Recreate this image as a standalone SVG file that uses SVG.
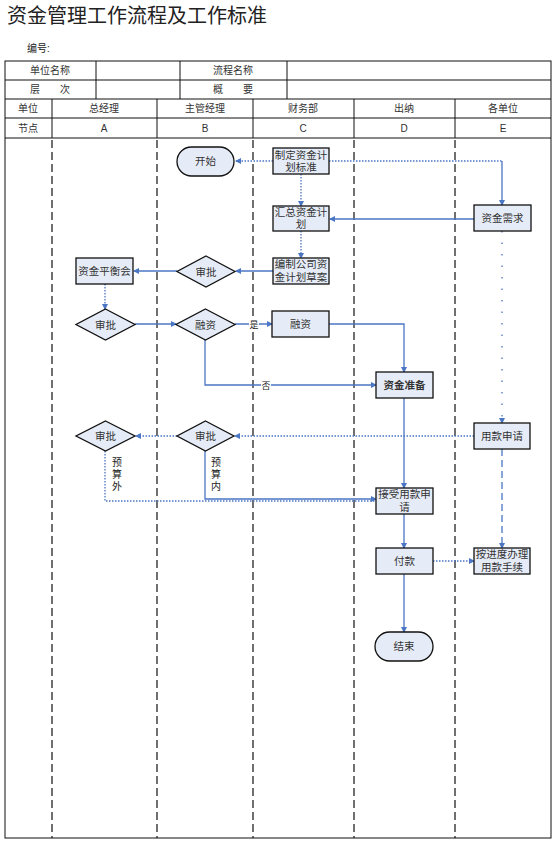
<svg xmlns="http://www.w3.org/2000/svg" width="553" height="843" viewBox="0 0 553 843">
<style>
text{font-family:"Liberation Sans","Noto Sans CJK SC",sans-serif;fill:#222}
.h{font-size:10px;text-anchor:middle;fill:#333}
.n{font-size:10.5px;text-anchor:middle;fill:#333}
.b{font-weight:bold}
.box{fill:#E6ECF7;stroke:#111;stroke-width:1.3}
.grid{stroke:#111;stroke-width:1;fill:none}
.lane{stroke:#111;stroke-width:1.2;stroke-dasharray:8,4;fill:none}
.c{stroke:#4A76C4;stroke-width:1.3;fill:none}
.d{stroke:#4A76C4;stroke-width:1.3;fill:none;stroke-dasharray:1.5,1.5}
.dl{stroke:#4A76C4;stroke-width:1.3;fill:none;stroke-dasharray:7,4}
.ds{stroke:#4A76C4;stroke-width:1.3;fill:none;stroke-dasharray:1.5,10}
</style>
<defs>
<marker id="a" markerWidth="6" markerHeight="6" refX="5" refY="3" orient="auto" markerUnits="userSpaceOnUse">
<path d="M0,0 L6,3 L0,6 z" fill="#4A76C4"/>
</marker>
</defs>
<text x="7" y="23" style="font-size:20px" fill="#111">资金管理工作流程及工作标准</text>
<text x="27" y="52" style="font-size:10px">编号:</text>
<g id="header">
<rect class="grid" x="5" y="61" width="546" height="777"/>
<line class="grid" x1="5" y1="80" x2="551" y2="80"/>
<line class="grid" x1="5" y1="99" x2="551" y2="99"/>
<line class="grid" x1="5" y1="118" x2="551" y2="118"/>
<line class="grid" x1="5" y1="138" x2="551" y2="138"/>
<line class="grid" x1="96" y1="61" x2="96" y2="99"/>
<line class="grid" x1="180" y1="61" x2="180" y2="99"/>
<line class="grid" x1="287" y1="61" x2="287" y2="99"/>
<line class="grid" x1="52" y1="99" x2="52" y2="138"/>
<line class="grid" x1="157" y1="99" x2="157" y2="138"/>
<line class="grid" x1="253" y1="99" x2="253" y2="138"/>
<line class="grid" x1="354" y1="99" x2="354" y2="138"/>
<line class="grid" x1="455" y1="99" x2="455" y2="138"/>
<text class="h" x="50" y="74">单位名称</text>
<text class="h" x="233" y="74">流程名称</text>
<text class="h" x="50" y="93">层　　次</text>
<text class="h" x="233" y="93">概　　要</text>
<text class="h" x="28" y="112">单位</text>
<text class="h" x="104" y="112">总经理</text>
<text class="h" x="205" y="112">主管经理</text>
<text class="h" x="303" y="112">财务部</text>
<text class="h" x="404" y="112">出纳</text>
<text class="h" x="503" y="112">各单位</text>
<text class="h" x="28" y="132">节点</text>
<text class="h" x="104" y="132">A</text>
<text class="h" x="205" y="132">B</text>
<text class="h" x="303" y="132">C</text>
<text class="h" x="404" y="132">D</text>
<text class="h" x="503" y="132">E</text>
</g>
<g id="lanes">
<line class="lane" x1="52" y1="140" x2="52" y2="838"/>
<line class="lane" x1="157" y1="140" x2="157" y2="838"/>
<line class="lane" x1="253" y1="140" x2="253" y2="838"/>
<line class="lane" x1="354" y1="140" x2="354" y2="838"/>
<line class="lane" x1="455" y1="140" x2="455" y2="838"/>
</g>
<g id="connectors">
<path class="d" d="M273,161 H236" marker-end="url(#a)"/>
<path class="d" d="M329,161 H502"/>
<path class="c" d="M502,161 V205" marker-end="url(#a)"/>
<path class="d" d="M301,174 V206" marker-end="url(#a)"/>
<path class="c" d="M474,219 H330" marker-end="url(#a)"/>
<path class="d" d="M301,231 V258" marker-end="url(#a)"/>
<path class="c" d="M273,271 H236" marker-end="url(#a)"/>
<path class="c" d="M177,271 H134" marker-end="url(#a)"/>
<path class="d" d="M105,284 V309" marker-end="url(#a)"/>
<path class="c" d="M135,324 H176" marker-end="url(#a)"/>
<path class="c" d="M235,324 H272" marker-end="url(#a)"/>
<path class="c" d="M329,324 H404 V372" marker-end="url(#a)"/>
<path class="c" d="M205,340 V385 H376" marker-end="url(#a)"/>
<path class="c" d="M404,398 V488" marker-end="url(#a)"/>
<path class="ds" d="M502,231 V423" marker-end="url(#a)"/>
<path class="d" d="M474,436 H235" marker-end="url(#a)"/>
<path class="d" d="M177,436 H136" marker-end="url(#a)"/>
<path class="d" d="M105,451 V501 H376"/>
<path class="c" d="M205,451 V499 H376" marker-end="url(#a)"/>
<path class="c" d="M404,514 V548" marker-end="url(#a)"/>
<path class="d" d="M433,561 H474" marker-end="url(#a)"/>
<path class="dl" d="M502,449 V548" marker-end="url(#a)"/>
<path class="c" d="M404,574 V632" marker-end="url(#a)"/>
<rect x="249" y="317" width="10" height="12" fill="#fff"/>
<text x="254" y="328" style="font-size:9px;text-anchor:middle">是</text>
<rect x="261" y="379" width="10" height="12" fill="#fff"/>
<text x="266" y="389" style="font-size:9px;text-anchor:middle">否</text>
<text x="117" y="466" style="font-size:10px;text-anchor:middle">预</text>
<text x="117" y="478" style="font-size:10px;text-anchor:middle">算</text>
<text x="117" y="490" style="font-size:10px;text-anchor:middle">外</text>
<text x="216" y="466" style="font-size:10px;text-anchor:middle">预</text>
<text x="216" y="478" style="font-size:10px;text-anchor:middle">算</text>
<text x="216" y="490" style="font-size:10px;text-anchor:middle">内</text>
</g>
<g id="start"><rect class="box" x="177" y="147" width="57" height="29" rx="14.5"/><text class="n" x="205.5" y="165">开始</text></g>
<g id="c1"><rect class="box" x="273" y="148" width="56" height="26"/><text class="n" x="301" y="159">制定资金计</text><text class="n" x="301" y="171">划标准</text></g>
<g id="c2"><rect class="box" x="273" y="206" width="56" height="25"/><text class="n" x="301" y="216">汇总资金计</text><text class="n" x="301" y="228">划</text></g>
<g id="c3"><rect class="box" x="273" y="258" width="56" height="26"/><text class="n" x="301" y="268">编制公司资</text><text class="n" x="301" y="281">金计划草案</text></g>
<g id="e1"><rect class="box" x="474" y="205" width="57" height="26"/><text class="n" x="502.5" y="222">资金需求</text></g>
<g id="b1"><polygon class="box" points="206,256 235,271.5 206,287 177,271.5"/><text class="n" x="206" y="275.5">审批</text></g>
<g id="a1"><rect class="box" x="76" y="258" width="57" height="26"/><text class="n" x="104.5" y="275">资金平衡会</text></g>
<g id="a2"><polygon class="box" points="105.5,309 135,324.5 105.5,340 76,324.5"/><text class="n" x="105.5" y="328.5">审批</text></g>
<g id="b2"><polygon class="box" points="205.5,309 235,324.5 205.5,340 176,324.5"/><text class="n" x="205.5" y="328.5">融资</text></g>
<g id="c4"><rect class="box" x="272" y="311" width="57" height="26"/><text class="n" x="300.5" y="328">融资</text></g>
<g id="d1"><rect class="box" x="376" y="372" width="57" height="26"/><text class="n b" x="404.5" y="389">资金准备</text></g>
<g id="a3"><polygon class="box" points="105.5,421 135,436 105.5,451 76,436"/><text class="n" x="105.5" y="440">审批</text></g>
<g id="b3"><polygon class="box" points="205.5,421 234,436 205.5,451 177,436"/><text class="n" x="205.5" y="440">审批</text></g>
<g id="e2"><rect class="box" x="474" y="423" width="56" height="26"/><text class="n" x="502" y="440">用款申请</text></g>
<g id="d2"><rect class="box" x="376" y="488" width="57" height="26"/><text class="n" x="404.5" y="498">接受用款申</text><text class="n" x="404.5" y="511">请</text></g>
<g id="d3"><rect class="box" x="376" y="548" width="57" height="26"/><text class="n" x="404.5" y="565">付款</text></g>
<g id="e3"><rect class="box" x="474" y="548" width="56" height="26"/><text class="n" x="502" y="558">按进度办理</text><text class="n" x="502" y="571">用款手续</text></g>
<g id="end"><rect class="box" x="375" y="632" width="58" height="29" rx="14.5"/><text class="n" x="404" y="650">结束</text></g>
</svg>
